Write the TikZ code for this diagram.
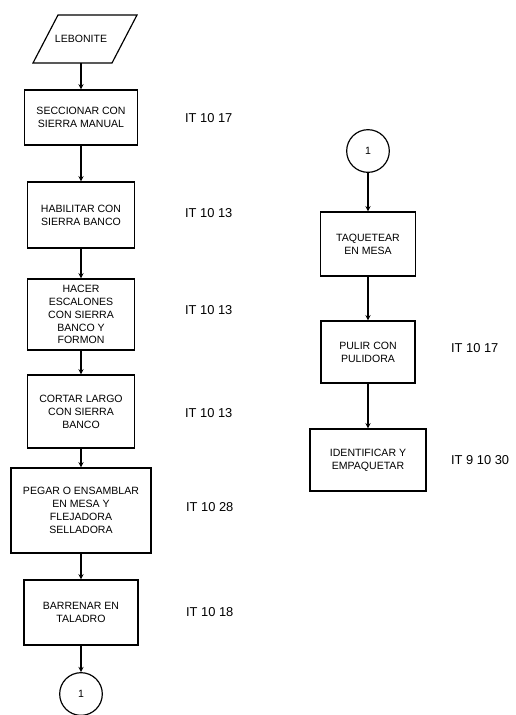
\documentclass[tikz,border=0pt]{standalone}
\usepackage{fontspec}
\setmainfont{Liberation Sans}
\usetikzlibrary{shapes.geometric,arrows,positioning}

\begin{document}
\begin{tikzpicture}
[x=0.03cm,y=-0.03cm,>=stealth,
proc/.style = {draw, line width=1.1pt, align=center, inner sep=1pt, font=\fontsize{9}{11}\selectfont},
conn/.style = {draw, circle, line width=1pt, minimum size=1.28cm, inner sep=0pt, font=\fontsize{9}{10}\selectfont},
lab/.style = {anchor=west, font=\fontsize{11}{13}\selectfont},
flow/.style = {->, line width=1pt},]
\useasboundingbox (0,0) rectangle (516,715);
% left column
\draw[line width=1pt] (58,15) -- (137,15) -- (112,63) -- (33,63) -- cycle;
\node (leb) at (81,39)[minimum height=1.44cm, inner sep=0pt, font=\fontsize{9}{11}\selectfont] {LEBONITE};
\node (sec) at (81,117.5)[proc, minimum width=3.39cm, minimum height=1.65cm] {SECCIONAR CON\\SIERRA MANUAL};
\node (hab) at (81,215)[proc, minimum width=3.21cm, minimum height=1.98cm] {HABILITAR CON\\SIERRA BANCO};
\node (hac) at (81,314.5)[proc, minimum width=3.21cm, minimum height=2.13cm] {HACER\\ESCALONES\\CON SIERRA\\BANCO Y\\FORMON};
\node (cor) at (81,411.5)[proc, minimum width=3.21cm, minimum height=2.19cm] {CORTAR LARGO\\CON SIERRA\\BANCO};
\node (peg) at (81,510.5)[proc, minimum width=4.2cm, minimum height=2.55cm] {PEGAR O ENSAMBLAR\\EN MESA Y\\FLEJADORA\\SELLADORA};
\node (bar) at (81,612.5)[proc, minimum width=3.42cm, minimum height=1.95cm] {BARRENAR EN\\TALADRO};
\node (ca) at (81,694)[conn] {1};
% right column
\node (cb) at (368,151)[conn] {1};
\node (taq) at (368,244)[proc, minimum width=2.85cm, minimum height=1.92cm] {TAQUETEAR\\EN MESA};
\node (pul) at (368,352)[proc, minimum width=2.82cm, minimum height=1.86cm] {PULIR CON\\PULIDORA};
\node (ide) at (368,460)[proc, minimum width=3.48cm, minimum height=1.86cm] {IDENTIFICAR Y\\EMPAQUETAR};
% labels
\node (it1) at (181,118)[lab] {IT 10 17};
\node (it2) at (181,213)[lab] {IT 10 13};
\node (it3) at (181,310)[lab] {IT 10 13};
\node (it4) at (181,413)[lab] {IT 10 13};
\node (it5) at (182,507)[lab] {IT 10 28};
\node (it6) at (182,612)[lab] {IT 10 18};
\node (it7) at (447,348)[lab] {IT 10 17};
\node (it8) at (447,460)[lab] {IT 9 10 30};

\draw[flow] (leb) -- (sec);
\draw[flow] (sec) -- (hab);
\draw[flow] (hab) -- (hac);
\draw[flow] (hac) -- (cor);
\draw[flow] (cor) -- (peg);
\draw[flow] (peg) -- (bar);
\draw[flow] (bar) -- (ca);
\draw[flow] (cb) -- (taq);
\draw[flow] (taq) -- (pul);
\draw[flow] (pul) -- (ide);
\end{tikzpicture}
\end{document}
